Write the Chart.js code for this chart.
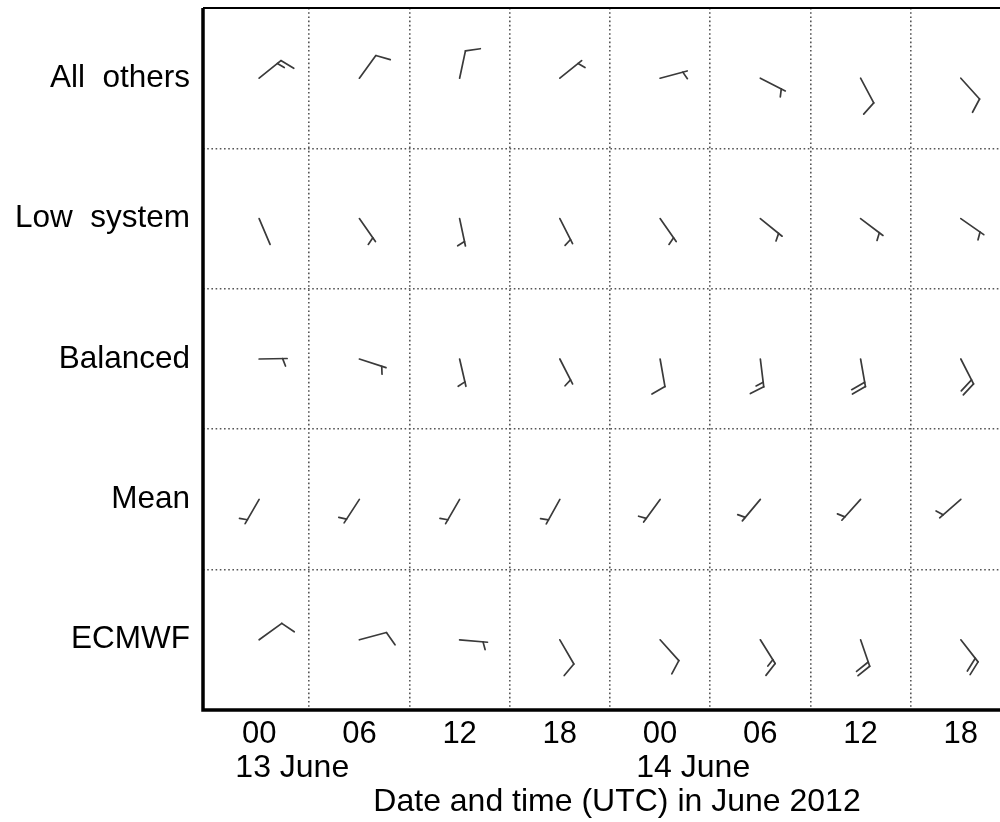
<!DOCTYPE html>
<html>
<head>
<meta charset="utf-8">
<script src="https://cdn.jsdelivr.net/npm/chart.js@4.4.1/dist/chart.umd.min.js"></script>
<style>
  html, body { margin: 0; padding: 0; background: #ffffff; overflow: hidden; }
  #wrap { width: 1032px; height: 822px; position: relative; }
</style>
</head>
<body>
<div id="wrap"><canvas id="chart" width="1032" height="822"></canvas></div>
<script>
// Time axis: 6-hourly steps over 13-14 June 2012
const hourLabels = ['00', '06', '12', '18', '00', '06', '12', '18'];
const dayLabels = ['13 June', '', '', '', '14 June', '', '', ''];
const sourceNames = ['All  others', 'Low  system', 'Balanced', 'Mean', 'ECMWF'];
const axisTitle = 'Date and time (UTC) in June 2012';

// Wind direction (degrees, where the wind blows from) and speed (knots)
const dirAllOthers = [51, 36, 12, 51, 75, 117, 152, 138];
const spdAllOthers = [15, 10, 10, 5, 5, 5, 10, 10];

const dirLowSystem = [157, 145, 168, 153, 145, 129, 127, 125];
const spdLowSystem = [2, 5, 5, 5, 5, 5, 5, 5];

const dirBalanced = [89, 108, 167, 153, 170, 173, 170, 153];
const spdBalanced = [5, 5, 5, 5, 10, 15, 20, 20];

const dirMean = [210, 213, 210, 209, 216, 220, 222, 229];
const spdMean = [5, 5, 5, 5, 5, 5, 5, 5];

const dirECMWF = [54, 75, 95, 150, 138, 148, 161, 142];
const spdECMWF = [10, 10, 5, 10, 10, 15, 20, 20];

const windDirs = [dirAllOthers, dirLowSystem, dirBalanced, dirMean, dirECMWF];
const windSpds = [spdAllOthers, spdLowSystem, spdBalanced, spdMean, spdECMWF];

const FONT = '"Liberation Sans", Arial, Helvetica, sans-serif';
const INK = '#3a3a3a';

const datasets = sourceNames.map((name, row) => ({
  label: name,
  data: hourLabels.map((_, i) => ({ x: i, y: row })),
  windDir: windDirs[row],
  windSpd: windSpds[row],
  pointRadius: 0,
  showLine: false
}));

// Draws a wind barb at every point: staff toward the wind origin,
// full barbs = 10 kt, half barbs = 5 kt, on the clockwise side.
const windBarbs = {
  id: 'windBarbs',
  afterDatasetsDraw(chart) {
    const ctx = chart.ctx;
    const staffLen = 28, fullLen = 15, halfLen = 8, step = 4.5;
    const ang = 70 * Math.PI / 180;
    ctx.save();
    ctx.strokeStyle = INK;
    ctx.lineWidth = 1.7;
    ctx.lineCap = 'round';
    chart.data.datasets.forEach((ds, di) => {
      const meta = chart.getDatasetMeta(di);
      meta.data.forEach((pt, i) => {
        const th = ds.windDir[i] * Math.PI / 180;
        const ux = Math.sin(th), uy = -Math.cos(th);
        const bx = ux * Math.cos(ang) - uy * Math.sin(ang);
        const by = ux * Math.sin(ang) + uy * Math.cos(ang);
        const x0 = pt.x, y0 = pt.y;
        const tx = x0 + ux * staffLen, ty = y0 + uy * staffLen;
        ctx.beginPath();
        ctx.moveTo(x0, y0);
        ctx.lineTo(tx, ty);
        ctx.stroke();
        const n = Math.round(ds.windSpd[i] / 5);
        const full = Math.floor(n / 2), half = n % 2;
        let pos = 0;
        for (let k = 0; k < full; k++) {
          const px = tx - ux * pos, py = ty - uy * pos;
          ctx.beginPath();
          ctx.moveTo(px, py);
          ctx.lineTo(px + bx * fullLen, py + by * fullLen);
          ctx.stroke();
          pos += step;
        }
        if (half) {
          if (full === 0) pos = step;
          const px = tx - ux * pos, py = ty - uy * pos;
          ctx.beginPath();
          ctx.moveTo(px, py);
          ctx.lineTo(px + bx * halfLen, py + by * halfLen);
          ctx.stroke();
        }
      });
    });
    ctx.restore();
  },
  afterDraw(chart) {
    const ctx = chart.ctx;
    const a = chart.chartArea;
    const xs = chart.scales.x;
    ctx.save();
    // frame: left, top and bottom edges
    ctx.strokeStyle = '#000';
    ctx.lineWidth = 3.5;
    ctx.beginPath();
    ctx.moveTo(a.left, a.top);
    ctx.lineTo(a.left, a.bottom);
    ctx.lineTo(a.right, a.bottom);
    ctx.stroke();
    ctx.lineWidth = 2;
    ctx.beginPath();
    ctx.moveTo(a.left, a.top);
    ctx.lineTo(a.right, a.top);
    ctx.stroke();
    // day labels, left-aligned under the first hour of each day
    ctx.font = '32px ' + FONT;
    ctx.fillStyle = '#000';
    ctx.textAlign = 'left';
    ctx.textBaseline = 'middle';
    dayLabels.forEach((d, i) => {
      if (!d) return;
      const w = ctx.measureText(hourLabels[i]).width;
      ctx.fillText(d, xs.getPixelForValue(i) - w / 2 - 6, 768);
    });
    ctx.restore();
  }
};

new Chart(document.getElementById('chart'), {
  type: 'scatter',
  data: { datasets },
  options: {
    responsive: false,
    animation: false,
    events: [],
    layout: { padding: { top: 8, right: 1, bottom: 0, left: 0 } },
    plugins: { legend: { display: false }, tooltip: { enabled: false } },
    scales: {
      x: {
        type: 'linear',
        min: -0.56,
        max: 7.7,
        afterBuildTicks: s => { s.ticks = hourLabels.map((_, i) => ({ value: i })); },
        afterFit: s => { s.height = 822 - 710; s.paddingLeft = 0; s.paddingRight = 0; },
        ticks: {
          callback: v => hourLabels[v],
          font: { family: FONT, size: 31 },
          color: '#000',
          padding: 6,
          maxRotation: 0,
          autoSkip: false
        },
        grid: {
          offset: true,
          drawTicks: false,
          color: c => (c.index === 0 ? 'rgba(0,0,0,0)' : '#555'),
          lineWidth: 1.6
        },
        border: { display: false, dash: [1.6, 2.6] },
        title: {
          display: true,
          text: axisTitle,
          font: { family: FONT, size: 32 },
          color: '#000',
          padding: { top: 0, bottom: 1 }
        }
      },
      y: {
        type: 'linear',
        reverse: true,
        min: -0.5,
        max: 4.5,
        afterBuildTicks: s => { s.ticks = sourceNames.map((_, i) => ({ value: i })); },
        afterFit: s => { s.width = 203; s.paddingTop = 0; s.paddingBottom = 0; },
        ticks: {
          callback: v => sourceNames[v],
          font: { family: FONT, size: 31.5 },
          color: '#000',
          padding: 13,
          autoSkip: false
        },
        grid: {
          offset: true,
          drawTicks: false,
          color: c => (c.index === 0 || c.index === sourceNames.length ? 'rgba(0,0,0,0)' : '#555'),
          lineWidth: 1.6
        },
        border: { display: false, dash: [1.6, 2.6] }
      }
    }
  },
  plugins: [windBarbs]
});
</script>
</body>
</html>
